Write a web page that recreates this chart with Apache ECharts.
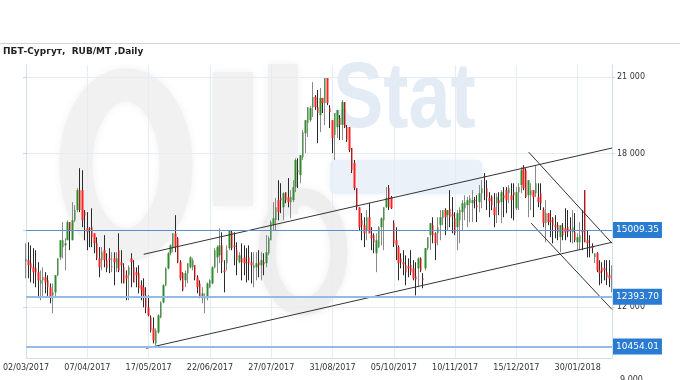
<!DOCTYPE html>
<html><head><meta charset="utf-8">
<script src="https://cdn.jsdelivr.net/npm/echarts@6.0.0/dist/echarts.min.js"></script>
<style>html,body{margin:0;padding:0;background:#fff}#c{width:680px;height:380px}</style>
</head><body><div id="c"></div>
<script>
const chartTitle = 'ПБТ-Сургут,  RUB/MT ,Daily';
const tickLabels = ['02/03/2017','07/04/2017','17/05/2017','22/06/2017','27/07/2017','31/08/2017','05/10/2017','10/11/2017','15/12/2017','30/01/2018'];
const labelStep = 25;
const yTickValues = [12000, 15000, 18000, 21000];
const levels = [15009.35, 12393.70, 10454.01];
const trendLines = [
  [[48, 14060], [239, 18220]],
  [[49, 10380], [239, 14530]],
  [[205, 18060], [239, 14490]],
  [[206, 15280], [239, 11900]]
];
// [open, close, low, high]
const ohlc = [
[13790,13870,13120,14490],[13830,13630,13120,14530],[13710,13510,12960,14410],[13550,13360,12920,14300],[13510,13360,12770,14220],
[13360,13040,12340,13750],[12920,13040,12260,13430],[13040,13160,12380,13550],[13160,12960,12530,13360],[13040,12770,12380,13240],
[12770,12340,12140,12920],[12450,12570,11750,12920],[12570,13240,12380,13240],[13240,13900,13200,13900],[13940,14610,13830,14610],
[14340,14610,13900,15320],[14410,14490,13430,14690],[14610,15320,14610,15390],[15320,15000,14220,15320],[14610,15390,14610,16100],
[15390,15790,15320,15980],[15790,16570,15710,16650],[16570,15790,15710,17430],[16570,15390,15120,17350],[15710,15590,14610,15790],
[15080,14920,14220,15710],[15080,15040,14340,15120],[15120,14730,14340,15860],[14880,14490,14100,14880],[14490,13900,13830,14730],
[13900,13550,13160,14340],[13830,14140,13430,14340],[14220,13830,13550,14810],[13830,13510,13360,14100],[13900,13830,13320,14300],
[13550,13590,13360,14140],[13900,13750,12850,14140],[13510,13900,13360,14140],[14220,13430,13360,14880],[13750,13630,12920,14220],
[13550,12920,12920,13710],[13240,13120,12260,13430],[13240,13550,12260,13630],[13900,13750,12770,14100],[13550,12960,12960,13830],
[13360,13240,12770,13550],[13320,12730,12530,13630],
[12850,12650,12260,13040],[12770,12450,11980,13120],[12450,11980,11750,12770],[11980,11670,11630,12450],[11590,11080,11000,11670],
[11160,10690,10570,11590],[10570,11080,10490,11160],[11000,11670,10960,11710],[11590,12180,11550,12220],[12180,12850,12140,12890],
[12850,13510,12810,13550],[13510,14100,13470,14140],[14100,14410,14020,14450],[14340,14880,14140,14880],[14880,14340,14140,15590],
[14690,13750,13710,14730],[13750,13120,13040,13830],[13320,12650,12610,13360],[13040,13320,12770,13430],[13320,13710,12920,13710],
[13550,13940,13510,13980],[13550,13830,13430,13900],[13630,13160,13040,13630],[13160,12770,12530,13240],[12920,12380,12340,13040],
[12340,12530,12140,12770],[12340,12380,11750,12530],[12340,12920,12260,12960],[12770,13040,12730,13080],[12920,13550,12890,13590],
[13550,14220,13510,14300],[13940,14340,13320,14410],[14020,14410,13710,15080],[14410,13750,13320,14920],[13430,13360,12570,13830],
[13710,14220,13430,14410],[14300,15000,14220,15000],[14920,14300,14220,15000],[14410,14340,13630,14920],[14220,13830,13240,14530],
[13750,14020,13710,14140],[13900,13750,13040,14490],[13940,13710,13240,14410],[13750,13710,12960,14300],[13940,13710,13040,14410],
[13750,13630,12920,14140],[13510,13630,12770,14140],[13550,13710,13040,14140],[13750,13630,13160,14220],[13630,13830,13040,14140],
[13750,13670,13240,14100],[13710,14140,13550,14810],[14100,14690,14020,14770],
[14610,15320,14610,15390],[15200,15470,15000,16100],[15390,15900,15000,16260],[16180,15710,15390,16960],[16260,16180,15670,16840],
[15900,16450,15390,16490],[16490,16180,16060,16490],[16300,16100,15900,17040],[16100,16300,15470,16570],[16180,16690,16100,16960],
[16690,17750,16490,17820],[17350,17280,16650,17820],[17160,17940,16840,17940],[17860,18840,17750,18920],[18800,19310,18020,19310],
[19200,19820,18650,19820],[19310,19780,19240,19860],[19820,20220,19430,20800],[20220,19820,19710,20290],[19820,19590,18410,20490],
[19510,20180,18840,20570],[20180,19980,19590,20180],[19980,20960,19120,20960],[20960,19980,19900,20960],[19780,19630,19000,19900],
[19310,18610,18020,19310],[18730,19590,17750,19590],[19040,19710,18610,19710],[19390,19120,18530,19510],[19120,20020,18530,20100],
[20020,19040,19000,20020],[19040,18530,18450,19120],[19040,18140,18060,19040],[18220,17350,17240,18220],[17630,16650,16570,17750],
[16650,15900,15790,16650],[15900,15120,15000,15900],[15390,15200,14610,15670],[15200,14880,14340,15510],[15000,15510,14610,15790],
[15510,14880,14880,16060],[14810,14690,14220,15120],[14810,14530,14100,14880],[14100,14610,13360,14880],[14340,15120,14300,15160],
[15120,15470,14410,15510],[15390,15900,14220,15900],[15900,16260,15860,16690],[16650,15900,15790,16770],[16300,15860,15830,16340],
[15280,14490,14340,15390],[14610,14410,13830,15120],[14340,13710,13040,14410],
[13900,13750,13510,14100],[13750,13670,13240,14220],[13630,13360,12850,14020],[13590,13510,13160,13900],[13630,13360,13240,14220],
[13510,13120,13040,13830],[13200,13080,12450,13750],[13510,13900,12770,13940],[13900,13430,13360,13940],[13120,13040,12730,13320],
[13510,14300,13430,14300],[14300,14730,14220,14730],[14810,15280,14220,15280],[15200,14810,14490,15510],[14880,14490,13830,14920],
[14880,15120,14410,15510],[15200,15510,14610,15790],[15470,15790,15200,15790],[15790,15510,14810,15860],[15590,15790,15000,15790],
[15830,15510,15120,16570],[15630,15550,14880,16300],[15470,14880,14810,15710],[15120,15670,14220,15790],[15390,15790,14490,15900],
[15710,16060,15000,16180],[15860,16100,15390,16370],[15980,16180,15120,16300],[16060,16260,15320,16370],[16060,16180,15320,16570],
[16180,16140,15860,16300],[15980,15900,15320,16370],[16100,16450,15710,16770],[16450,16650,15860,16960],[17120,17080,16180,17240],
[16650,16300,15790,16960],[16260,16140,15510,16490],[16300,15980,15790,16370],[15900,15590,15120,16450],[16060,16300,15280,16450],
[16180,16060,15590,16490],[16100,16490,15280,16570],[16370,16260,15510,16690],[16570,16180,15670,16690],[16450,16650,16060,16770],
[16370,16180,15470,16840],[16490,16370,15390,16840],[15860,16490,15790,16690],[16490,16690,15790,16840],[16770,17350,16450,17470],
[17470,16650,16570,17550],[17350,16300,16260,17430],[16370,16960,15510,16960],[16370,16570,15790,16840],[16570,16300,15510,16570],
[16450,16840,16300,17550],[16300,16100,15900,16840],[16450,16060,15790,16840],[15790,15280,15120,15900],[15280,15670,14530,16180],
[15670,15320,15200,15670],[15390,15320,14730,15790],[15470,15200,14490,15510],[15200,15120,14690,15590],[15200,14920,14610,15320],
[14730,15200,14140,15200],[15120,14810,14610,15280],[15080,14920,14610,15860],[15120,14920,14730,15790],[15040,14960,14530,15510],
[14920,15120,14490,15790],[14920,14610,14530,15670],[14530,14730,14220,14880],[14530,14810,14220,15320],[15000,14920,14220,15790],
[16570,14530,14530,16570],[14610,14490,13940,15000],[14340,14300,13940,14810],[14380,14300,14100,14490],[13940,14100,13710,14100],
[14100,13430,13360,14140],[13430,13320,12850,13830],[13550,13360,12920,13750],[13510,13430,13040,13830],[13360,13160,12850,13830],
[13240,13120,12770,13830],[13120,13120,12570,13630]
];

const chart = echarts.init(document.getElementById('c'), null, {renderer: 'canvas'});
const categories = ohlc.map((d, i) => String(i));
const bodies = ohlc.map(d => [d[0], d[1], Math.min(d[0], d[1]), Math.max(d[0], d[1])]);
const fmtThousands = v => String(Math.round(v)).replace(/\B(?=(\d{3})+(?!\d))/g, ' ');
const FONT = 'DejaVu Sans';
const gridColor = '#e4edf6';
const frameColor = '#d0e0ef';
const wmGray = '#f1f1f1';

const lineSeries = trendLines.map(seg => ({
  type: 'line', data: seg, symbol: 'none', silent: true, z: 4,
  lineStyle: {color: '#333', width: 1}
}));

const option = {
  animation: false,
  textStyle: {fontFamily: FONT},
  title: {text: chartTitle, left: 3, top: 47, padding: 0, textStyle: {fontSize: 9, fontWeight: 'bold', color: '#222', fontFamily: FONT}},
  graphic: [
    {type: 'line', shape: {x1: 0, y1: 43.5, x2: 680, y2: 43.5}, style: {stroke: '#d2d2d2', lineWidth: 1}, z: -5},
    {type: 'ellipse', shape: {cx: 126, cy: 165, rx: 50, ry: 80}, style: {fill: 'none', stroke: wmGray, lineWidth: 33, shadowBlur: 8, shadowColor: wmGray}, z: -10},
    {type: 'rect', shape: {x: 213, y: 72, width: 40, height: 134}, style: {fill: wmGray, shadowBlur: 8, shadowColor: wmGray}, z: -10},
    {type: 'rect', shape: {x: 268, y: 64, width: 30, height: 150}, style: {fill: wmGray, shadowBlur: 8, shadowColor: wmGray}, z: -10},
    {type: 'ellipse', shape: {cx: 303, cy: 252, rx: 36, ry: 55}, style: {fill: 'none', stroke: '#eeeeee', lineWidth: 17, shadowBlur: 8, shadowColor: '#eeeeee'}, z: -10},
    {type: 'text', x: 333, y: 56, scaleX: 0.82, style: {text: 'Stat', font: 'bold 92px "Liberation Sans"', fill: '#e3ecf5', shadowBlur: 6, shadowColor: '#e3ecf5'}, z: -10},
    {type: 'rect', shape: {x: 330, y: 160, width: 152, height: 34, r: 5}, style: {fill: '#eaf1f8', shadowBlur: 6, shadowColor: '#eaf1f8'}, z: -10},
    {type: 'text', left: 620, top: 376, style: {text: '9 000', font: '8px "DejaVu Sans"', fill: '#333'}}
  ],
  grid: {left: 22, right: 68, top: 65, bottom: 22},
  xAxis: {
    type: 'category', data: categories, boundaryGap: false,
    axisLine: {lineStyle: {color: frameColor}},
    axisTick: {show: false},
    axisLabel: {interval: i => i % labelStep === 0, formatter: (v, i) => tickLabels[i / labelStep] || '', fontSize: 8, color: '#333', margin: 6, fontFamily: FONT},
    splitLine: {show: true, interval: i => i % labelStep === 0, lineStyle: {color: gridColor}}
  },
  yAxis: [
    {type: 'value', position: 'left', min: 10000, max: 21470, interval: 3000,
      axisLine: {show: true, lineStyle: {color: frameColor}},
      axisTick: {show: true, customValues: yTickValues, length: 3, lineStyle: {color: '#c6d6e6'}},
      axisLabel: {show: false},
      splitLine: {show: true, lineStyle: {color: gridColor}}},
    {type: 'value', position: 'right', min: 10000, max: 21470,
      axisLine: {show: true, lineStyle: {color: frameColor}},
      axisTick: {show: true, customValues: yTickValues, length: 3, lineStyle: {color: '#c6d6e6'}},
      axisLabel: {customValues: yTickValues, formatter: fmtThousands, fontSize: 8, color: '#333', margin: 5, fontFamily: FONT},
      splitLine: {show: false}}
  ],
  series: [
    {type: 'candlestick', data: ohlc, barWidth: 1, z: 2,
      itemStyle: {color: '#8a8a8a', color0: '#2a2a2a', borderColor: '#8a8a8a', borderColor0: '#2a2a2a', borderWidth: 1},
      markLine: {
        silent: true, symbol: ['none', 'none'], z: 6,
        data: levels.map((v, i) => ({
          yAxis: v,
          lineStyle: i === 0 ? {color: '#5a8fcc', width: 1, type: 'solid'} : {color: '#93bbe6', width: 2, type: 'solid'},
          label: {show: true, position: 'end', distance: 1, formatter: () => v.toFixed(2),
            backgroundColor: '#2a7bd2', color: '#fff', fontSize: 9, fontFamily: FONT, padding: [4, 3, 3, 3]}
        }))
      }},
    {type: 'candlestick', data: bodies, barWidth: 2, z: 3,
      itemStyle: {color: '#2f8a2a', color0: '#ff2222', borderColor: '#2f8a2a', borderColor0: '#ff2222', borderWidth: 0}},
    ...lineSeries
  ]
};
chart.setOption(option);
</script></body></html>
